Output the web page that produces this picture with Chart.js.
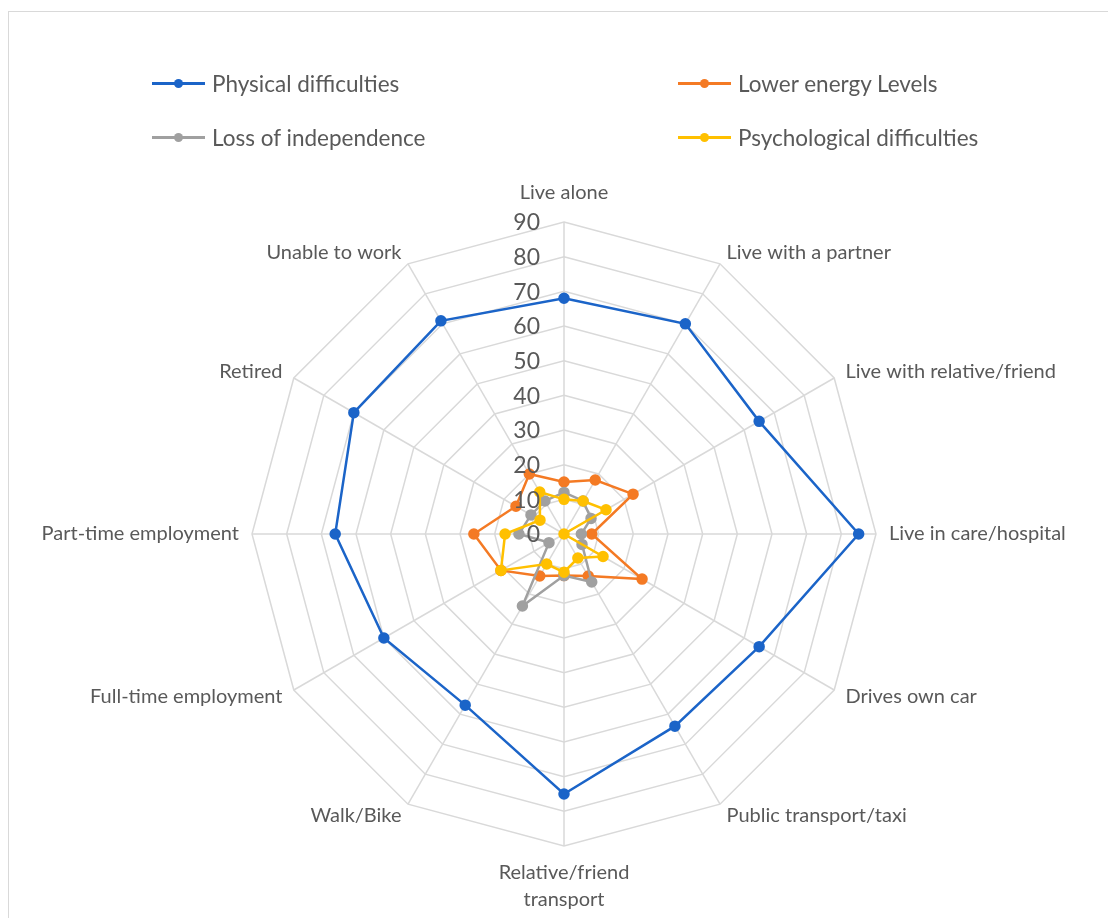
<!DOCTYPE html>
<html>
<head>
<meta charset="utf-8">
<script src="https://cdn.jsdelivr.net/npm/chart.js@4"></script>
<style>
  html, body { margin: 0; padding: 0; background: #fff; }
  body { width: 1108px; height: 918px; position: relative; overflow: hidden; font-family: Lato, "Open Sans", sans-serif; }
  .frame { position: absolute; left: 8px; top: 11px; width: 1200px; height: 1000px; border: 1px solid #d9d9d9; }
  .chart-box { position: absolute; left: 0; top: 0; width: 1108px; height: 925px; }
  .legend-item { position: absolute; display: flex; align-items: center; color: #595959; font-size: 22.5px; }
  .legend-line { position: relative; width: 53px; height: 3px; margin-right: 7px; }
  .legend-dot { position: absolute; left: 22px; top: -3px; width: 9px; height: 9px; border-radius: 50%; }
</style>
</head>
<body>
<div class="frame"></div>
<div class="chart-box"><canvas id="radarChart"></canvas></div>
<div id="radarLegend"></div>
<script>
// Chart data
const categories = [
  "Live alone",
  "Live with a partner",
  "Live with relative/friend",
  "Live in care/hospital",
  "Drives own car",
  "Public transport/taxi",
  ["Relative/friend", "transport"],
  "Walk/Bike",
  "Full-time employment",
  "Part-time employment",
  "Retired",
  "Unable to work",
];
const seriesNames = [
  "Physical difficulties",
  "Lower energy Levels",
  "Loss of independence",
  "Psychological difficulties",
];
const physical = [68, 70, 65, 85, 65, 64, 75, 57, 60, 66, 70, 71];
const lowerEnergy = [15, 18, 23, 8, 26, 14, 12, 14, 21, 26, 16, 20];
const independence = [12, 11, 9, 5, 6, 16, 12, 24, 5, 13, 11, 11];
const psychological = [10, 11, 14, 0, 13, 8, 11, 10, 21, 17, 8, 14];
const tickValues = [0, 10, 20, 30, 40, 50, 60, 70, 80, 90];
const seriesColors = ["#1b64c8", "#f47a24", "#a0a0a0", "#ffc000"];

const textColor = "#595959";
const gridColor = "#d9d9d9";

// Tick labels sit left of the vertical axis, right aligned
const tickLabelPlugin = {
  id: "tickLabels",
  afterDatasetsDraw(chart) {
    const scale = chart.scales.r;
    const ctx = chart.ctx;
    ctx.save();
    ctx.font = "23px Lato, 'Open Sans', sans-serif";
    ctx.fillStyle = textColor;
    ctx.textAlign = "right";
    ctx.textBaseline = "middle";
    scale.ticks.forEach((tick) => {
      const d = scale.getDistanceFromCenterForValue(tick.value);
      ctx.fillText(String(tick.value), scale.xCenter - 24, scale.yCenter - d + 1);
    });
    ctx.restore();
  },
};

// Center diagonal point labels vertically on their spoke, like Excel does
function centerDiagonalLabels(scale) {
  const items = scale._pointLabelItems || [];
  items.forEach((item, i) => {
    const angle = Math.round((scale.getIndexAngle(i) * 180) / Math.PI) % 360;
    if (angle % 90 === 0) return;
    const h = item.bottom - item.top;
    const dy = angle < 90 || angle > 270 ? h / 2 : -h / 2;
    item.y += dy;
    item.top += dy;
    item.bottom += dy;
  });
}

document.addEventListener("DOMContentLoaded", () => {
  const radarCtx = document.getElementById("radarChart");
  const datasets = [physical, lowerEnergy, independence, psychological].map((values, i) => ({
    label: seriesNames[i],
    data: values,
    borderColor: seriesColors[i],
    backgroundColor: seriesColors[i],
    pointBackgroundColor: seriesColors[i],
    pointBorderColor: seriesColors[i],
    borderWidth: 2.5,
    pointRadius: 4.5,
    fill: false,
  })).reverse();

  window.radarChart = new Chart(radarCtx, {
    type: "radar",
    data: { labels: categories, datasets: datasets },
    options: {
      responsive: true,
      maintainAspectRatio: false,
      animation: false,
      layout: { padding: { top: 168, bottom: 0, left: 0, right: 0 } },
      elements: { line: { tension: 0 } },
      scales: {
        r: {
          min: 0,
          max: 90,
          afterBuildTicks(scale) {
            scale.ticks = tickValues.map((v) => ({ value: v }));
          },
          afterFit: centerDiagonalLabels,
          ticks: { display: false, stepSize: 10 },
          grid: { color: gridColor, lineWidth: 1.5 },
          angleLines: { color: gridColor, lineWidth: 1.5 },
          pointLabels: {
            color: textColor,
            padding: (c) => (c.index === 0 ? 16 : 13),
            font: { family: "Lato, 'Open Sans', sans-serif", size: 20, lineHeight: 1.35 },
          },
        },
      },
      plugins: {
        legend: { display: false },
        tooltip: { enabled: false },
      },
    },
    plugins: [tickLabelPlugin],
  });

  // Custom legend in two columns
  const legendPos = [
    [152, 84], [678, 84], [152, 138], [678, 138],
  ];
  const legendBox = document.getElementById("radarLegend");
  legendBox.innerHTML = "";
  seriesNames.forEach((name, i) => {
    const item = document.createElement("div");
    item.className = "legend-item";
    item.style.left = legendPos[i][0] + "px";
    item.style.top = legendPos[i][1] - 14 + "px";
    item.innerHTML = `
      <div class="legend-line" style="background-color: ${seriesColors[i]}">
        <div class="legend-dot" style="background-color: ${seriesColors[i]}"></div>
      </div>
      <div class="legend-label">${name}</div>
    `;
    legendBox.appendChild(item);
  });
});
</script>
</body>
</html>
